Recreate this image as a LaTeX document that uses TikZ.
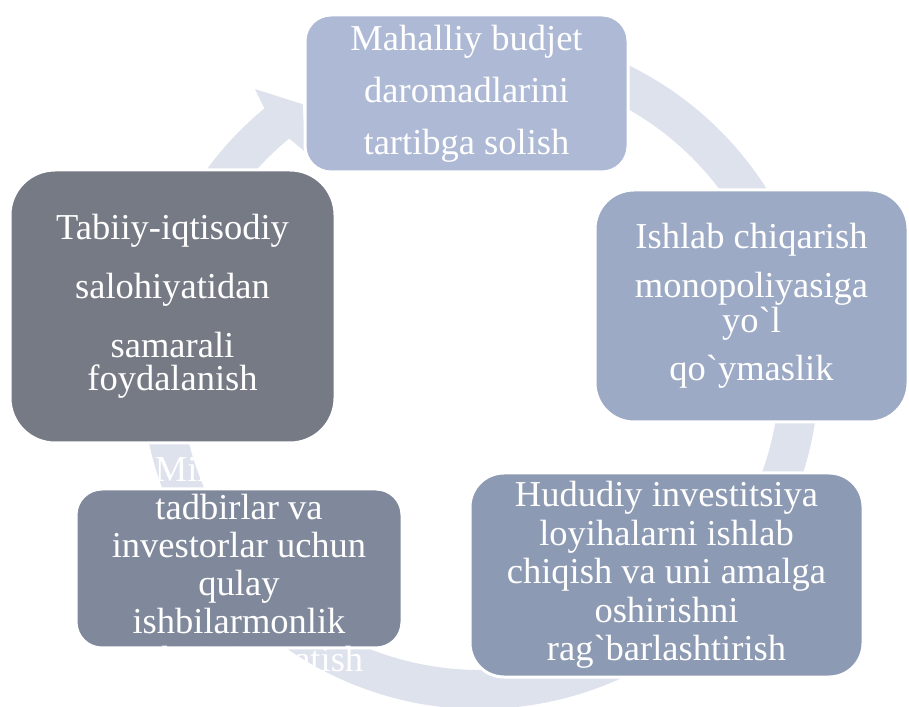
\documentclass[tikz,border=0pt]{standalone}
\usepackage{fontspec}
\setmainfont{Liberation Serif}[Ligatures=TeXOff]
\usepackage{xcolor}
\usepackage{tikz}
\definecolor{ringc}{RGB}{222,226,237}
\definecolor{boxA}{RGB}{174,185,213}
\definecolor{boxB}{RGB}{157,170,197}
\definecolor{boxC}{RGB}{141,154,179}
\definecolor{boxD}{RGB}{128,137,156}
\definecolor{boxE}{RGB}{118,122,132}
\newcommand\sz[1]{\fontsize{18.25}{#1}\selectfont}
\tikzstyle{blk}=[rectangle,draw=white,line width=1.5pt,text=white,align=center,inner sep=0pt]
\tikzstyle{txt}=[text=white,align=center,inner sep=0pt]

\begin{document}
\begin{tikzpicture}[x=0.5pt,y=0.5pt]
	\useasboundingbox (0,0) rectangle (909,706);
	\coordinate (c) at (480,336);
	\fill[ringc,shift={(c)}] (100:339) arc[start angle=100,end angle=-230.5,radius=169.5pt]
		-- (-231.3:360) -- (-236.3:319.5) -- (-231.3:279) -- (-230.5:300)
		arc[start angle=-230.5,end angle=100,radius=150pt] -- cycle;
	\node[blk,fill=boxA,minimum width=161.5pt,minimum height=78.5pt,rounded corners=13pt,font=\sz{26}] (budjet) at (466.5,612.5)
		{Mahalliy budjet\\daromadlarini\\tartibga solish};
	\node[blk,fill=boxB,minimum width=156.5pt,minimum height=116pt,rounded corners=19.5pt,font=\sz{16}] (monopol) at (751.5,400)
		{Ishlab chiqarish\\[6.5pt]monopoliyasiga\\yo`l\\[6.5pt]qo`ymaslik};
	\node[blk,fill=boxC,minimum width=196.5pt,minimum height=102pt,rounded corners=17pt,font=\sz{19.25}] (invest) at (666.5,131)
		{Hududiy investitsiya\\loyihalarni ishlab\\chiqish va uni amalga\\oshirishni\\rag`barlashtirish};
	\node[blk,fill=boxD,minimum width=163pt,minimum height=79.5pt,rounded corners=13pt] (ishbil) at (239,137.5) {};
	\node[txt,font=\sz{19}] (ishbiltxt) at (ishbil)
		{Mintaqaviy\\tadbirlar va\\investorlar uchun\\qulay\\ishbilarmonlik\\muhitini yaratish};
	\node[blk,fill=boxE,minimum width=162.5pt,minimum height=136.5pt,rounded corners=22.5pt,font=\sz{16.5}] (tabiiy) at (172.5,399.5)
		{Tabiiy-iqtisodiy\\[12pt]salohiyatidan\\[12pt]samarali\\foydalanish};
\end{tikzpicture}
\end{document}
